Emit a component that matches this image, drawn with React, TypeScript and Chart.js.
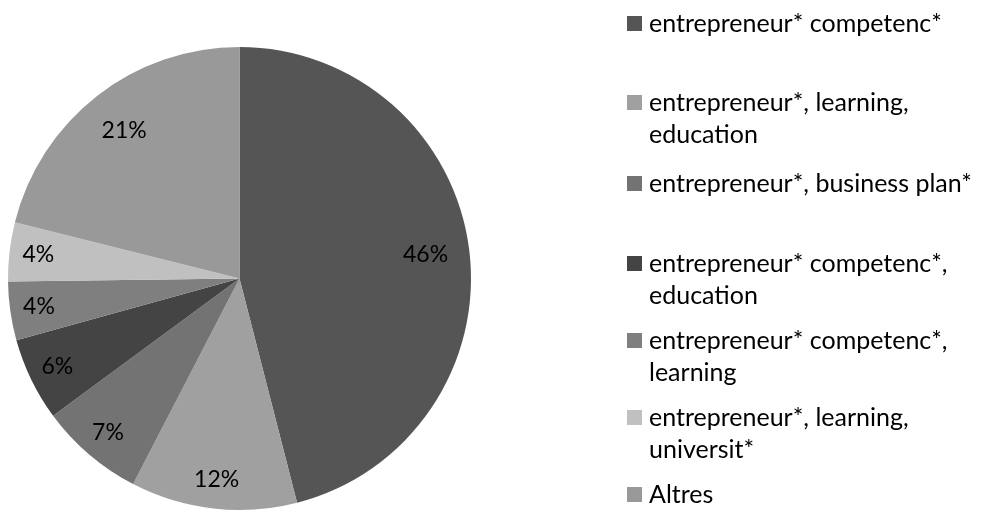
import React, { useEffect, useRef } from "react";
import { Chart, registerables } from "chart.js";

Chart.register(...registerables);

const labels: string[][] = [
  ["entrepreneur* competenc*"],
  ["entrepreneur*, learning,", "education"],
  ["entrepreneur*, business plan*"],
  ["entrepreneur* competenc*,", "education"],
  ["entrepreneur* competenc*,", "learning"],
  ["entrepreneur*, learning,", "universit*"],
  ["Altres"],
];
const values: number[] = [46.0, 11.6, 7.3, 5.8, 4.1, 4.1, 21.1];
const colors: string[] = ["#555555", "#a0a0a0", "#737373", "#444444", "#7f7f7f", "#c0c0c0", "#999999"];

const FONT = "Lato, 'Open Sans', sans-serif";
const LEGEND_Y = [24, 103, 184, 264, 341, 418, 495];

const sliceLabels = {
  id: "sliceLabels",
  afterDatasetsDraw(chart: any) {
    const ctx = chart.ctx;
    const meta = chart.getDatasetMeta(0);
    const total = values.reduce((a, b) => a + b, 0);
    ctx.save();
    ctx.font = `23px ${FONT}`;
    ctx.fillStyle = "#000";
    ctx.textAlign = "center";
    ctx.textBaseline = "middle";
    meta.data.forEach((arc: any, i: number) => {
      const { x, y, startAngle, endAngle, outerRadius } = arc.getProps(
        ["x", "y", "startAngle", "endAngle", "outerRadius"],
        true
      );
      const mid = (startAngle + endAngle) / 2;
      const frac = values[i] / total;
      const r = outerRadius * (frac > 0.15 ? 0.81 : 0.875);
      const pct = Math.round(frac * 100) + "%";
      ctx.fillText(pct, x + Math.cos(mid) * r, y + Math.sin(mid) * r);
    });
    ctx.restore();
  },
};

const sideLegend = {
  id: "sideLegend",
  afterDraw(chart: any) {
    const ctx = chart.ctx;
    ctx.save();
    ctx.font = `25px ${FONT}`;
    ctx.textBaseline = "middle";
    ctx.textAlign = "left";
    labels.forEach((lines, i) => {
      const y0 = LEGEND_Y[i];
      ctx.fillStyle = colors[i];
      ctx.fillRect(627, y0 - 8, 15, 15);
      ctx.fillStyle = "#000";
      lines.forEach((ln, j) => {
        ctx.fillText(ln, 649, y0 + j * 31.5);
      });
    });
    ctx.restore();
  },
};

export default function App() {
  const ref = useRef<HTMLCanvasElement>(null);
  useEffect(() => {
    if (!ref.current) return;
    const chart = new Chart(ref.current, {
      type: "pie",
      data: {
        labels: labels.map((l) => l.join(" ")),
        datasets: [
          {
            data: values,
            backgroundColor: colors,
            borderWidth: 0,
          },
        ],
      },
      options: {
        animation: false,
        responsive: false,
        layout: { padding: { left: 8, right: 512, top: 47, bottom: 3 } },
        plugins: {
          legend: { display: false },
          tooltip: { enabled: false },
        },
      },
      plugins: [sliceLabels, sideLegend],
    });
    return () => chart.destroy();
  }, []);
  return (
    <div style={{ position: "fixed", left: 0, top: 0, width: 983, height: 513, background: "#fff" }}>
      <canvas ref={ref} width={983} height={513} style={{ width: 983, height: 513 }} />
    </div>
  );
}
